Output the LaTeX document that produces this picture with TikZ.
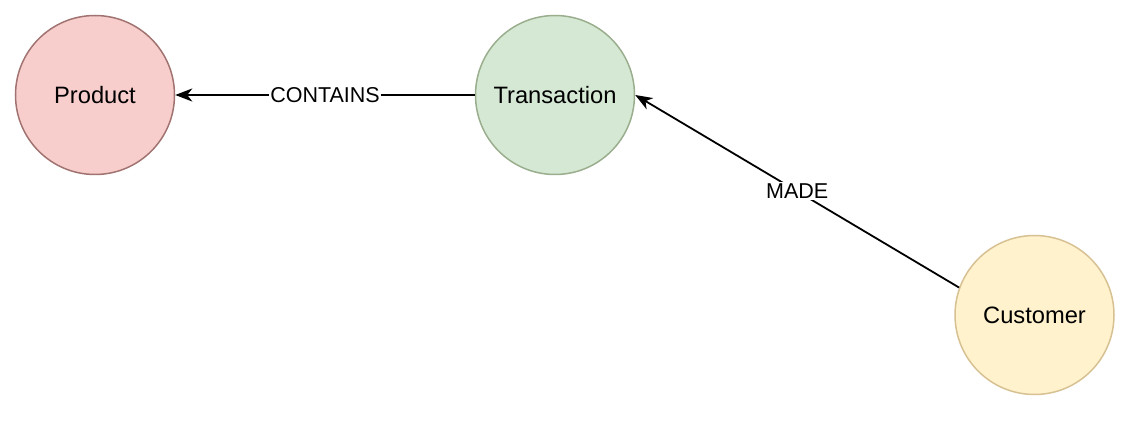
\documentclass[tikz,border=0pt]{standalone}
\usepackage{fontspec}
\setmainfont{Liberation Sans}
\usetikzlibrary{arrows.meta}
\definecolor{prodfill}{HTML}{F8CECC}
\definecolor{prodline}{HTML}{A07370}
\definecolor{transfill}{HTML}{D5E8D4}
\definecolor{transline}{HTML}{9AAE8E}
\definecolor{custfill}{HTML}{FFF2CC}
\definecolor{custline}{HTML}{D7C193}
\tikzset{
  entity/.style={circle, minimum size=159pt, inner sep=0pt, line width=1.5pt,
    font=\fontsize{23.7}{28}\selectfont},
  rel/.style={line width=1.8pt, -{Stealth[length=17pt,width=13pt,inset=5pt]}},
  rellabel/.style={fill=white, inner sep=1.5pt, font=\fontsize{21.5}{25}\selectfont}
}
\begin{document}
\begin{tikzpicture}[x=1pt,y=-1pt]
\useasboundingbox (0,0) rectangle (1144,422);
\node[entity, fill=prodfill, draw=prodline] (product) at (95,95) {Product};
\node[entity, fill=transfill, draw=transline] (transaction) at (555,95) {Transaction};
\node[entity, fill=custfill, draw=custline] (customer) at (1034.5,315) {Customer};
\draw[rel] (transaction.west) -- node[rellabel] {CONTAINS} (product.east);
\draw[rel] (customer.160.6) -- node[rellabel] {MADE} (transaction.east);
\end{tikzpicture}
\end{document}
